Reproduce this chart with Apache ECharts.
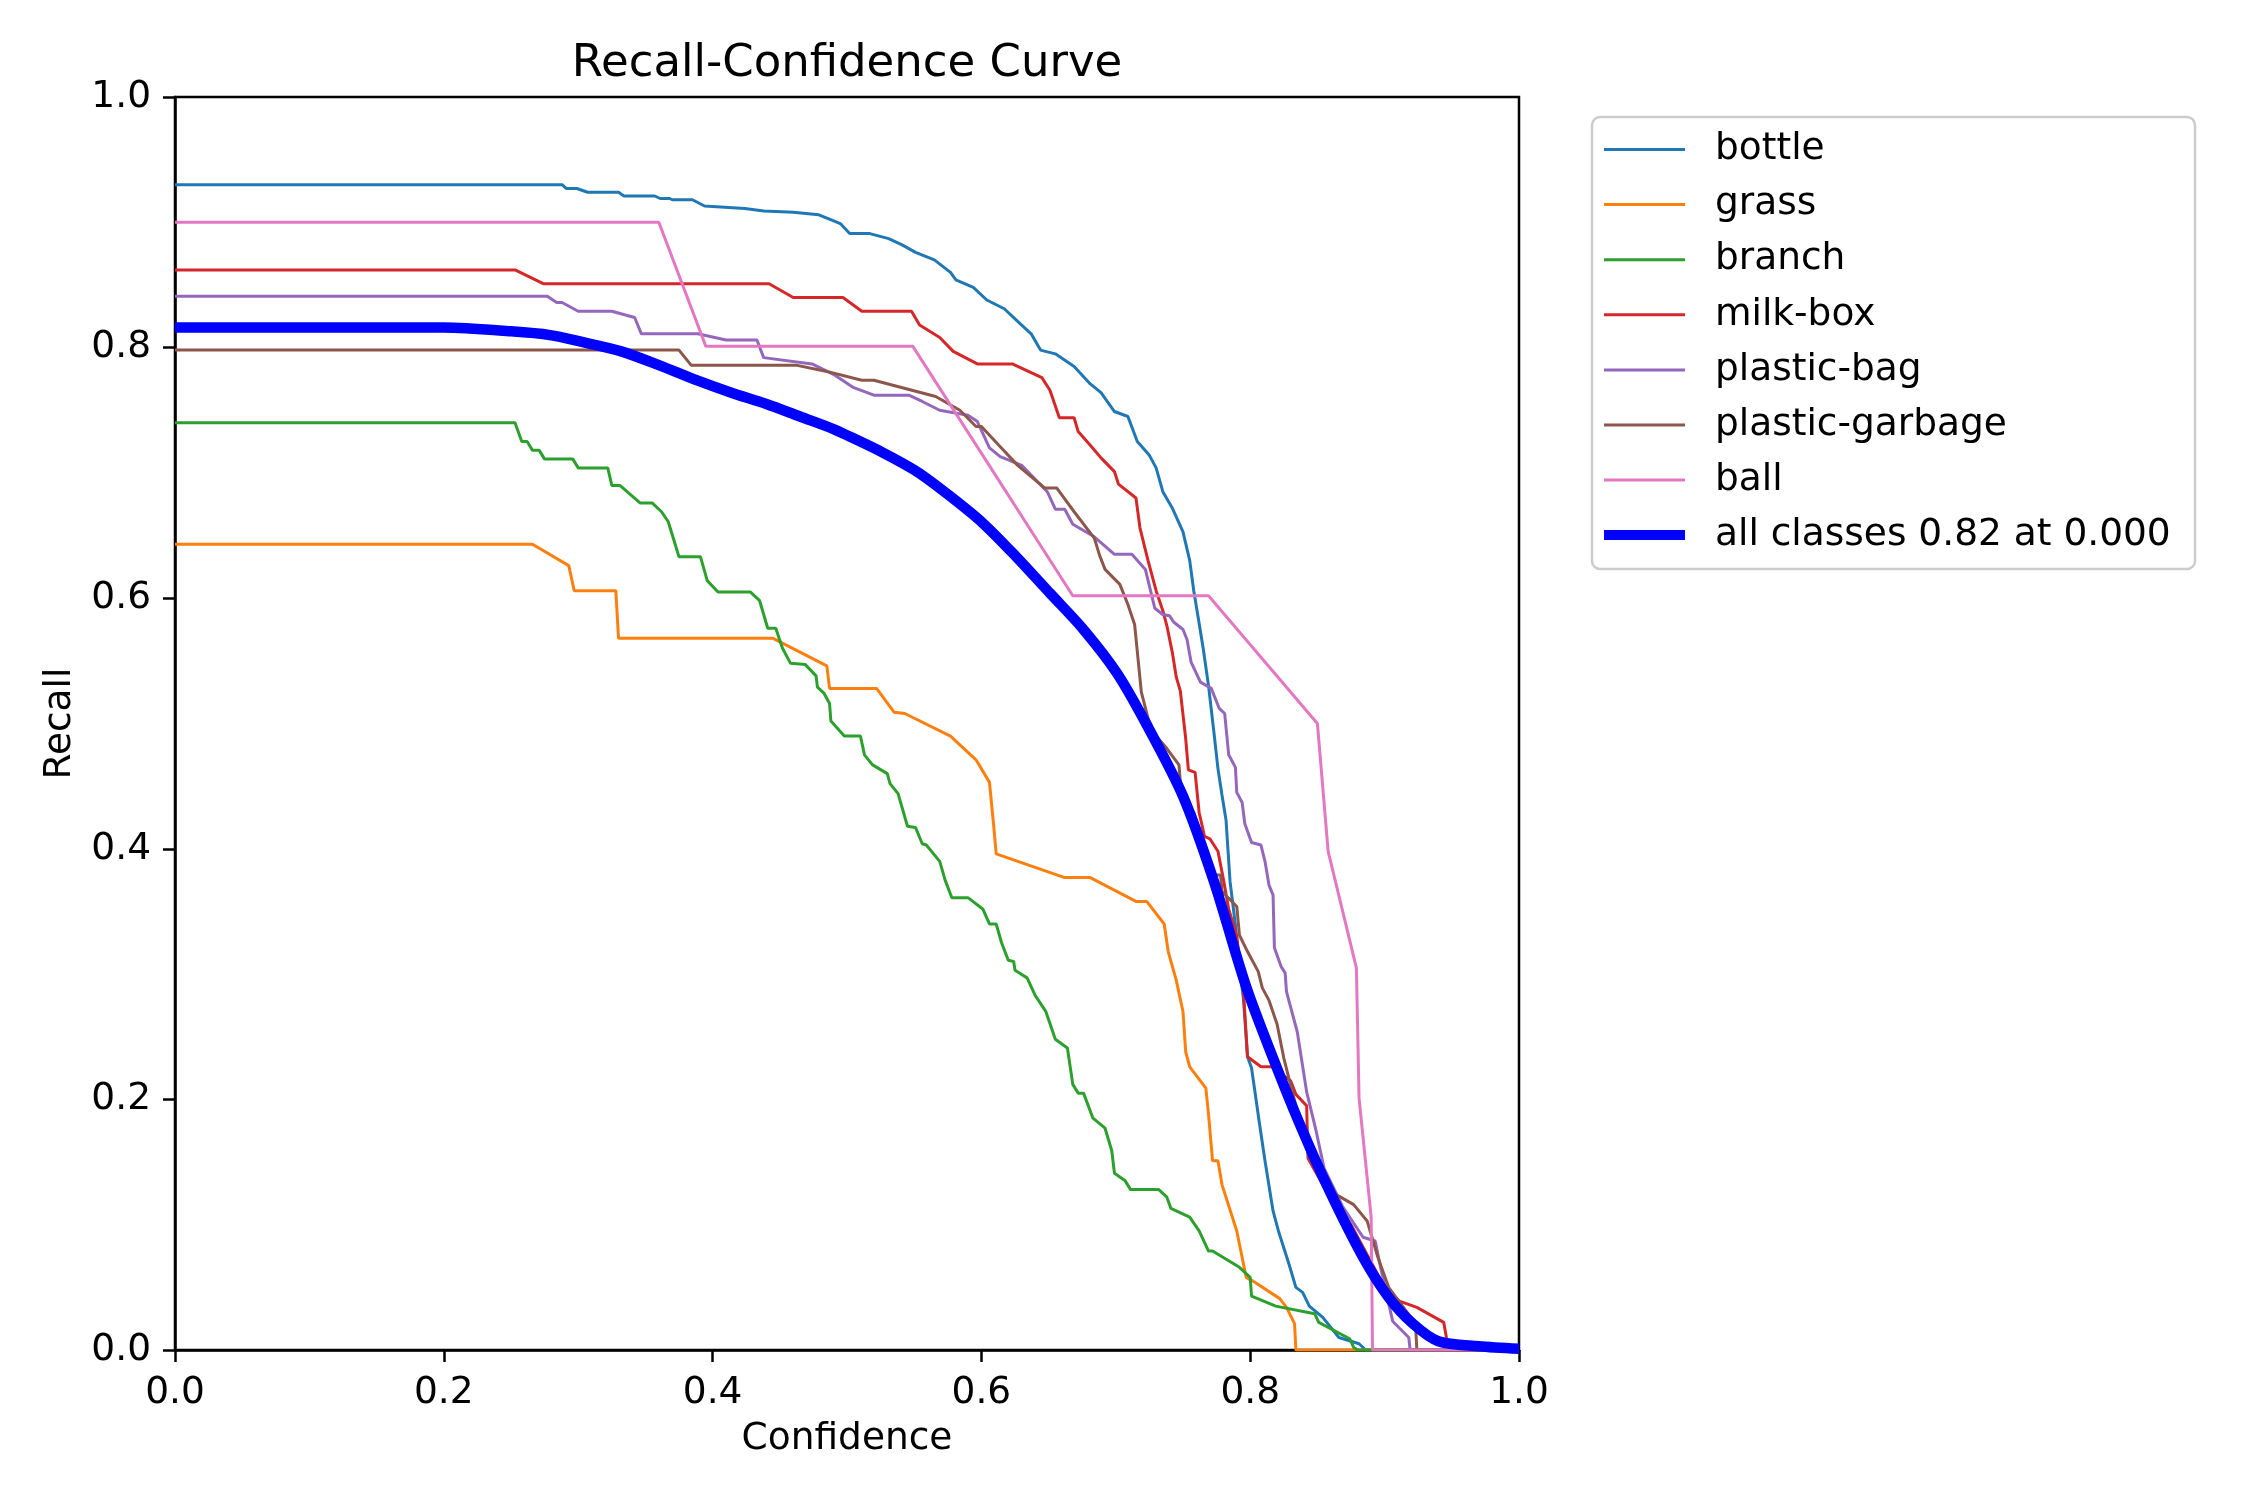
<!DOCTYPE html>
<html>
<head>
<meta charset="utf-8">
<title>Recall-Confidence Curve</title>
<script src="https://cdn.jsdelivr.net/npm/echarts@6/dist/echarts.min.js"></script>
<style>
  html, body { margin: 0; padding: 0; background: #fff; }
  #chart { width: 2250px; height: 1500px; }
</style>
</head>
<body>
<div id="chart"></div>
<script>
// 数据：每条曲线为 [confidence, recall] 点列
const classNames = ['bottle', 'grass', 'branch', 'milk-box', 'plastic-bag', 'plastic-garbage', 'ball'];
const allName = 'all classes 0.82 at 0.000';

const bottle = [[0, 0.93], [0.288, 0.93], [0.291, 0.927], [0.299, 0.927], [0.307, 0.924], [0.33, 0.924], [0.334, 0.921], [0.357, 0.921], [0.361, 0.919], [0.368, 0.919], [0.37, 0.918], [0.385, 0.918], [0.394, 0.913], [0.424, 0.911], [0.438, 0.909], [0.46, 0.908], [0.479, 0.906], [0.486, 0.903], [0.495, 0.899], [0.502, 0.891], [0.517, 0.891], [0.531, 0.887], [0.541, 0.882], [0.551, 0.876], [0.565, 0.87], [0.577, 0.86], [0.581, 0.854], [0.594, 0.848], [0.604, 0.838], [0.617, 0.831], [0.627, 0.821], [0.637, 0.811], [0.644, 0.798], [0.655, 0.795], [0.669, 0.785], [0.681, 0.771], [0.689, 0.764], [0.699, 0.749], [0.709, 0.745], [0.716, 0.725], [0.725, 0.714], [0.73, 0.704], [0.735, 0.685], [0.742, 0.672], [0.75, 0.653], [0.755, 0.63], [0.758, 0.606], [0.762, 0.58], [0.765, 0.56], [0.769, 0.53], [0.773, 0.493], [0.776, 0.464], [0.779, 0.443], [0.782, 0.423], [0.785, 0.374], [0.789, 0.339], [0.792, 0.305], [0.795, 0.28], [0.798, 0.234], [0.801, 0.225], [0.807, 0.18], [0.811, 0.151], [0.817, 0.111], [0.821, 0.095], [0.829, 0.068], [0.834, 0.05], [0.839, 0.046], [0.844, 0.035], [0.854, 0.026], [0.866, 0.01], [0.881, 0.005], [0.886, 0], [1, 0]];

const grass = [[0, 0.643], [0.266, 0.643], [0.293, 0.626], [0.297, 0.606], [0.328, 0.606], [0.33, 0.568], [0.445, 0.568], [0.485, 0.546], [0.487, 0.528], [0.522, 0.528], [0.535, 0.509], [0.543, 0.508], [0.577, 0.49], [0.596, 0.471], [0.606, 0.453], [0.609, 0.42], [0.611, 0.396], [0.662, 0.377], [0.681, 0.377], [0.715, 0.358], [0.723, 0.358], [0.736, 0.34], [0.739, 0.318], [0.745, 0.295], [0.75, 0.27], [0.752, 0.238], [0.755, 0.226], [0.767, 0.209], [0.769, 0.188], [0.772, 0.151], [0.776, 0.151], [0.779, 0.132], [0.79, 0.095], [0.797, 0.058], [0.802, 0.055], [0.822, 0.041], [0.827, 0.034], [0.833, 0.021], [0.834, 0], [1, 0]];

const branch = [[0, 0.74], [0.253, 0.74], [0.258, 0.725], [0.262, 0.725], [0.266, 0.718], [0.271, 0.718], [0.275, 0.711], [0.296, 0.711], [0.3, 0.704], [0.322, 0.704], [0.325, 0.69], [0.331, 0.69], [0.346, 0.676], [0.355, 0.676], [0.362, 0.669], [0.367, 0.661], [0.371, 0.647], [0.375, 0.633], [0.391, 0.633], [0.396, 0.614], [0.404, 0.605], [0.428, 0.605], [0.435, 0.598], [0.438, 0.587], [0.441, 0.576], [0.447, 0.576], [0.452, 0.56], [0.458, 0.548], [0.469, 0.547], [0.477, 0.538], [0.478, 0.529], [0.483, 0.524], [0.487, 0.516], [0.488, 0.502], [0.498, 0.49], [0.51, 0.49], [0.513, 0.475], [0.519, 0.467], [0.53, 0.46], [0.532, 0.452], [0.538, 0.444], [0.545, 0.418], [0.551, 0.417], [0.556, 0.404], [0.559, 0.403], [0.569, 0.39], [0.573, 0.375], [0.578, 0.361], [0.59, 0.361], [0.601, 0.352], [0.606, 0.34], [0.611, 0.34], [0.615, 0.325], [0.62, 0.311], [0.624, 0.31], [0.625, 0.303], [0.634, 0.297], [0.64, 0.283], [0.648, 0.27], [0.655, 0.248], [0.664, 0.241], [0.668, 0.212], [0.672, 0.205], [0.676, 0.205], [0.683, 0.185], [0.692, 0.177], [0.697, 0.159], [0.699, 0.141], [0.707, 0.135], [0.711, 0.128], [0.732, 0.128], [0.738, 0.122], [0.741, 0.113], [0.755, 0.106], [0.762, 0.095], [0.769, 0.079], [0.772, 0.079], [0.792, 0.066], [0.8, 0.058], [0.801, 0.043], [0.819, 0.035], [0.848, 0.029], [0.851, 0.022], [0.874, 0.009], [0.877, 0.002], [0.88, 0], [1, 0]];

const milkBox = [[0, 0.862], [0.253, 0.862], [0.274, 0.851], [0.442, 0.851], [0.46, 0.84], [0.497, 0.84], [0.511, 0.829], [0.548, 0.829], [0.554, 0.818], [0.569, 0.808], [0.579, 0.797], [0.597, 0.787], [0.623, 0.787], [0.645, 0.776], [0.651, 0.766], [0.658, 0.744], [0.669, 0.744], [0.672, 0.733], [0.681, 0.722], [0.689, 0.712], [0.699, 0.701], [0.702, 0.691], [0.715, 0.68], [0.718, 0.656], [0.724, 0.63], [0.73, 0.606], [0.735, 0.59], [0.738, 0.578], [0.742, 0.557], [0.745, 0.537], [0.748, 0.526], [0.752, 0.488], [0.754, 0.463], [0.759, 0.461], [0.762, 0.429], [0.766, 0.41], [0.77, 0.408], [0.776, 0.398], [0.78, 0.376], [0.784, 0.352], [0.79, 0.33], [0.795, 0.286], [0.798, 0.234], [0.808, 0.226], [0.816, 0.226], [0.83, 0.215], [0.834, 0.204], [0.842, 0.195], [0.843, 0.153], [0.855, 0.13], [0.875, 0.1], [0.891, 0.068], [0.9, 0.05], [0.911, 0.039], [0.924, 0.034], [0.944, 0.022], [0.946, 0.01], [0.948, 0], [1, 0]];

const plasticBag = [[0, 0.841], [0.277, 0.841], [0.284, 0.836], [0.288, 0.836], [0.3, 0.829], [0.325, 0.829], [0.342, 0.824], [0.347, 0.811], [0.389, 0.811], [0.41, 0.806], [0.433, 0.806], [0.438, 0.792], [0.474, 0.787], [0.491, 0.778], [0.505, 0.768], [0.52, 0.762], [0.546, 0.762], [0.556, 0.757], [0.569, 0.75], [0.59, 0.746], [0.597, 0.741], [0.606, 0.72], [0.614, 0.713], [0.63, 0.706], [0.649, 0.685], [0.655, 0.671], [0.662, 0.671], [0.668, 0.659], [0.684, 0.649], [0.699, 0.635], [0.712, 0.635], [0.722, 0.623], [0.729, 0.592], [0.735, 0.587], [0.74, 0.586], [0.743, 0.581], [0.75, 0.575], [0.753, 0.567], [0.756, 0.549], [0.763, 0.533], [0.771, 0.528], [0.777, 0.512], [0.781, 0.508], [0.784, 0.475], [0.789, 0.465], [0.79, 0.445], [0.794, 0.437], [0.796, 0.42], [0.801, 0.405], [0.808, 0.403], [0.811, 0.39], [0.814, 0.371], [0.817, 0.363], [0.818, 0.321], [0.823, 0.306], [0.826, 0.301], [0.827, 0.286], [0.835, 0.254], [0.842, 0.206], [0.849, 0.175], [0.855, 0.145], [0.869, 0.114], [0.884, 0.09], [0.893, 0.087], [0.897, 0.066], [0.906, 0.023], [0.918, 0.01], [0.919, 0], [1, 0]];

const plasticGarbage = [[0, 0.798], [0.375, 0.798], [0.384, 0.786], [0.462, 0.786], [0.485, 0.781], [0.511, 0.774], [0.52, 0.774], [0.566, 0.761], [0.584, 0.75], [0.596, 0.737], [0.6, 0.737], [0.613, 0.722], [0.627, 0.706], [0.647, 0.688], [0.656, 0.688], [0.669, 0.669], [0.684, 0.648], [0.688, 0.634], [0.692, 0.623], [0.703, 0.611], [0.709, 0.595], [0.714, 0.579], [0.719, 0.525], [0.724, 0.504], [0.73, 0.49], [0.738, 0.48], [0.747, 0.467], [0.749, 0.44], [0.758, 0.429], [0.765, 0.405], [0.773, 0.379], [0.778, 0.379], [0.779, 0.366], [0.79, 0.354], [0.792, 0.331], [0.798, 0.318], [0.806, 0.302], [0.809, 0.289], [0.814, 0.279], [0.82, 0.26], [0.825, 0.233], [0.829, 0.216], [0.844, 0.153], [0.864, 0.124], [0.877, 0.116], [0.887, 0.103], [0.895, 0.074], [0.903, 0.05], [0.923, 0.021], [0.924, 0], [1, 0]];

const ball = [[0, 0.9], [0.36, 0.9], [0.395, 0.801], [0.549, 0.801], [0.668, 0.602], [0.769, 0.602], [0.85, 0.5], [0.858, 0.398], [0.879, 0.305], [0.881, 0.201], [0.89, 0.106], [0.891, 0], [1, 0]];

const allClasses = [[0, 0.816], [0.2, 0.816], [0.25, 0.813], [0.279, 0.81], [0.305, 0.804], [0.332, 0.797], [0.36, 0.786], [0.388, 0.774], [0.414, 0.764], [0.44, 0.755], [0.465, 0.745], [0.49, 0.735], [0.502, 0.729], [0.527, 0.716], [0.552, 0.701], [0.576, 0.682], [0.601, 0.66], [0.626, 0.633], [0.651, 0.604], [0.676, 0.575], [0.701, 0.54], [0.725, 0.495], [0.75, 0.442], [0.773, 0.374], [0.797, 0.29], [0.817, 0.233], [0.837, 0.18], [0.859, 0.127], [0.884, 0.074], [0.903, 0.042], [0.921, 0.021], [0.94, 0.007], [0.97, 0.003], [1, 0.001]];

const classData = [bottle, grass, branch, milkBox, plasticBag, plasticGarbage, ball];
const tickLabels = ['0.0', '0.2', '0.4', '0.6', '0.8', '1.0'];

// 样式（matplotlib tab10 配色）
const classColors = ['#1f77b4', '#ff7f0e', '#2ca02c', '#d62728', '#9467bd', '#8c564b', '#e377c2'];
const FONT = 'DejaVu Sans';
const BASE = 37.5;

// 坐标轴公共配置
function axisCommon(name) {
    return {
        type: 'value',
        min: 0,
        max: 1,
        interval: 0.2,
        name: name,
        nameLocation: 'middle',
        nameTextStyle: { fontFamily: FONT, fontSize: BASE, color: '#000' },
        axisLine: { show: true, lineStyle: { color: '#000', width: 2.5 } },
        axisTick: { show: true, inside: false, length: 12, lineStyle: { color: '#000', width: 2.5 } },
        axisLabel: {
            fontFamily: FONT,
            fontSize: BASE,
            color: '#000',
            margin: 24,
            formatter: v => tickLabels[Math.round(v / 0.2)]
        },
        splitLine: { show: false }
    }
}

const series = classNames.map((name, i) => ({
    name: name,
    type: 'line',
    data: classData[i],
    color: classColors[i],
    showSymbol: false,
    symbol: 'none',
    animation: false,
    lineStyle: { width: 3, color: classColors[i] }
}));
series.push({
    name: allName,
    type: 'line',
    data: allClasses,
    color: '#0000ff',
    symbol: 'none',
    smooth: 0.3,
    animation: false,
    lineStyle: { width: 10.5, color: '#0000ff' }
});

const legendText = { fontFamily: FONT, fontSize: BASE, color: '#000', lineHeight: 40, padding: [0, 0, 0, 25] };

const chart = echarts.init(document.getElementById('chart'), null, { renderer: 'canvas' });
chart.setOption({
    backgroundColor: '#fff',
    animation: false,
    title: {
        text: 'Recall-Confidence Curve',
        left: 847,
        top: 42,
        padding: 0,
        textAlign: 'center',
        textStyle: { fontFamily: FONT, fontSize: 45, fontWeight: 'normal', color: '#000' }
    },
    grid: {
        left: 175,
        top: 97,
        width: 1344,
        height: 1253,
        show: true,
        borderColor: '#000',
        borderWidth: 2.5,
        backgroundColor: 'transparent'
    },
    xAxis: Object.assign(axisCommon('Confidence'), { nameGap: 70 }),
    yAxis: Object.assign(axisCommon('Recall'), { nameGap: 96 }),
    graphic: [{
        type: 'rect',
        z: -1,
        shape: { x: 1592, y: 117, width: 603, height: 452, r: 8 },
        style: { fill: 'rgba(255,255,255,0.8)', stroke: '#cccccc', lineWidth: 2.5 }
    }],
    legend: [{
        data: classNames,
        orient: 'vertical',
        left: 1604,
        top: 129.5,
        padding: 0,
        itemGap: 15.1,
        itemWidth: 81,
        itemHeight: 3,
        icon: 'rect',
        selectedMode: false,
        textStyle: legendText
    }, {
        data: [allName],
        orient: 'vertical',
        left: 1604,
        top: 515,
        padding: 0,
        itemWidth: 81,
        itemHeight: 10,
        icon: 'rect',
        selectedMode: false,
        textStyle: legendText
    }],
    series: series
});
</script>
</body>
</html>
